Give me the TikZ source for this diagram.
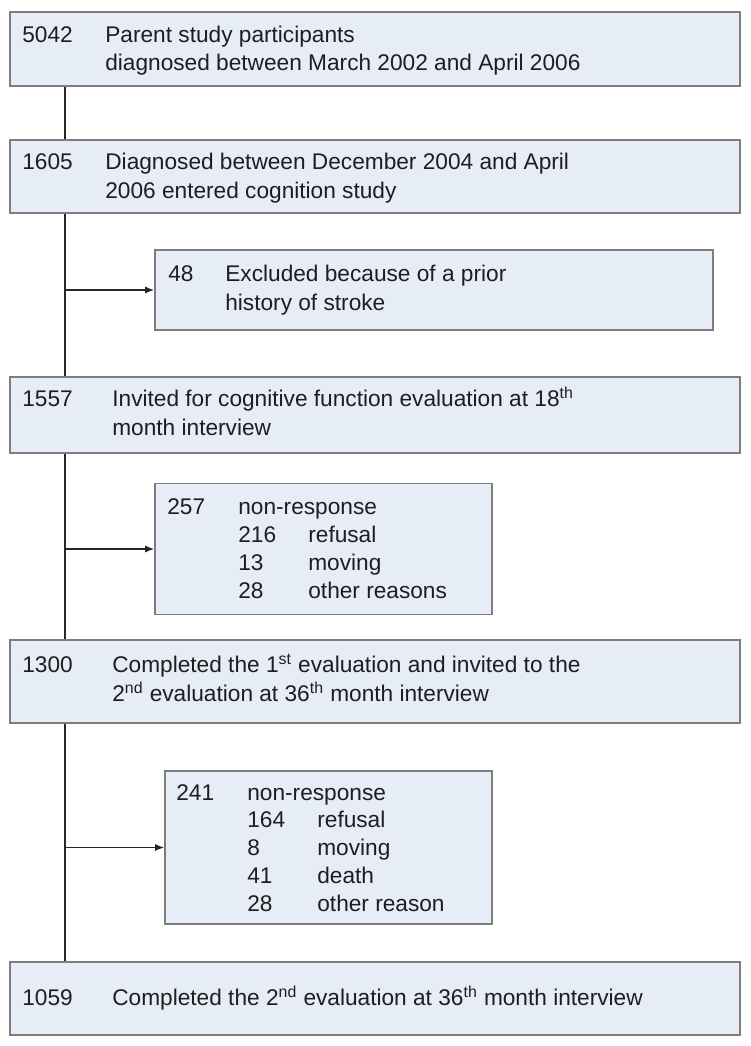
\documentclass[tikz,border=0pt]{standalone}
\usepackage{fontspec}
\setmainfont{Liberation Sans}
\usepackage{xcolor}
\usepackage{tikz}
\usetikzlibrary{arrows.meta,positioning,calc}
\definecolor{boxfill}{RGB}{230,237,247}
\definecolor{boxline}{RGB}{125,125,125}
\definecolor{txt}{RGB}{30,30,30}
\tikzset{
  box/.style={draw=boxline, fill=boxfill, line width=0.9pt, rectangle, inner sep=0pt},
  lbl/.style={anchor=base west, inner sep=0pt, text=txt, font=\fontsize{12.9}{15}\selectfont},
  flow/.style={draw=black!85, line width=0.7pt},
  tip/.style={-{Latex[length=1.8mm,width=1.4mm]}},
}

\begin{document}
\begin{tikzpicture}
\useasboundingbox (0,0) rectangle (15,-20.92);

% Main stages
\node[box, minimum width=14.6cm, minimum height=1.48cm] (parent) at (7.5,-0.98) {};
\node[lbl] (parent-n) at (0.44,-0.84) {5042};
\node[lbl] (parent-a) at (2.1,-0.84) {Parent study participants};
\node[lbl] (parent-b) at (2.1,-1.41) {diagnosed between March 2002 and April 2006};

\node[box, minimum width=14.6cm, minimum height=1.46cm] (cohort) at (7.5,-3.53) {};
\node[lbl] (cohort-n) at (0.44,-3.39) {1605};
\node[lbl] (cohort-a) at (2.1,-3.39) {Diagnosed between December 2004 and April};
\node[lbl] (cohort-b) at (2.1,-3.96) {2006 entered cognition study};

\node[box, minimum width=14.6cm, minimum height=1.52cm] (invited) at (7.5,-8.3) {};
\node[lbl] (invited-n) at (0.44,-8.13) {1557};
\node[lbl] (invited-a) at (2.24,-8.13) {Invited for cognitive function evaluation at 18\textsuperscript{th}};
\node[lbl] (invited-b) at (2.24,-8.7) {month interview};

\node[box, minimum width=14.6cm, minimum height=1.66cm] (second) at (7.5,-13.63) {};
\node[lbl] (second-n) at (0.44,-13.45) {1300};
\node[lbl] (second-a) at (2.24,-13.45) {Completed the 1\textsuperscript{st} evaluation and invited to the};
\node[lbl] (second-b) at (2.24,-14.02) {2\textsuperscript{nd} evaluation at 36\textsuperscript{th} month interview};

\node[box, minimum width=14.6cm, minimum height=1.46cm] (final) at (7.5,-19.97) {};
\node[lbl] (final-n) at (0.44,-20.11) {1059};
\node[lbl] (final-a) at (2.24,-20.11) {Completed the 2\textsuperscript{nd} evaluation at 36\textsuperscript{th} month interview};

% Exclusions
\node[box, minimum width=11.16cm, minimum height=1.6cm] (stroke) at (8.68,-5.8) {};
\node[lbl] (stroke-n) at (3.36,-5.63) {48};
\node[lbl] (stroke-a) at (4.5,-5.63) {Excluded because of a prior};
\node[lbl] (stroke-b) at (4.5,-6.2) {history of stroke};

\node[box, minimum width=6.74cm, minimum height=2.62cm] (lost1) at (6.47,-10.98) {};
\node[lbl] (lost1-n) at (3.34,-10.28) {257};
\node[lbl] (lost1-a) at (4.76,-10.28) {non-response};
\foreach \num/\why [count=\i] in {216/refusal, 13/moving, 28/other reasons} {
  \node[lbl] (lost1-n\i) at (4.76,-10.28-0.565*\i) {\num};
  \node[lbl] (lost1-w\i) at (6.16,-10.28-0.565*\i) {\why};
}

\node[box, minimum width=6.54cm, minimum height=3.06cm] (lost2) at (6.57,-16.95) {};
\node[lbl] (lost2-n) at (3.52,-16.0) {241};
\node[lbl] (lost2-a) at (4.94,-16.0) {non-response};
\foreach \num/\why [count=\i] in {164/refusal, 8/moving, 41/death, 28/other reason} {
  \node[lbl] (lost2-n\i) at (4.94,-16.0-0.555*\i) {\num};
  \node[lbl] (lost2-w\i) at (6.34,-16.0-0.555*\i) {\why};
}

% Connectors
\coordinate (trunk) at (1.3,0);
\draw[flow] (trunk |- parent.south) -- (trunk |- cohort.north);
\draw[flow] (trunk |- cohort.south) -- (trunk |- invited.north);
\draw[flow] (trunk |- invited.south) -- (trunk |- second.north);
\draw[flow] (trunk |- second.south) -- (trunk |- final.north);
\draw[flow, tip] (trunk |- stroke.west) -- (stroke.west);
\draw[flow, tip] (trunk |- lost1.west) -- (lost1.west);
\draw[flow, tip] (trunk |- lost2.west) -- (lost2.west);

\end{tikzpicture}
\end{document}
